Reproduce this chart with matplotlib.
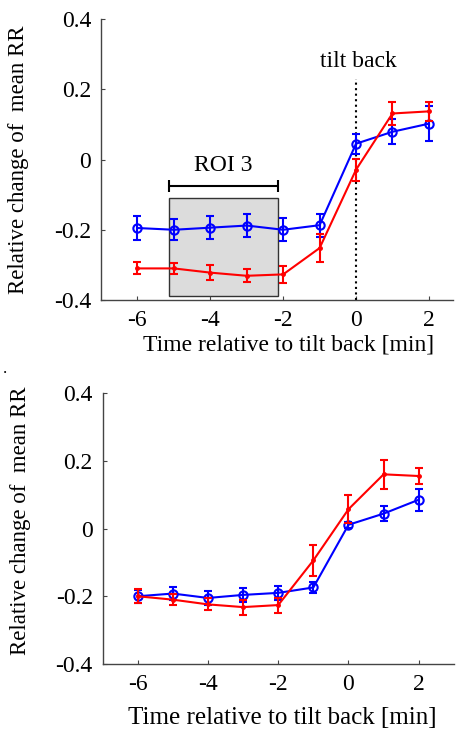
import matplotlib
matplotlib.use("Agg")
import matplotlib.pyplot as plt
from matplotlib.patches import Rectangle

plt.rcParams['font.family'] = ['Liberation Serif', 'DejaVu Serif']

# temps relatif au retour de bascule [min]
t = [-6, -5, -4, -3, -2, -1, 0, 1, 2]

# panneau du haut
haut_bleu = [-0.195, -0.200, -0.194, -0.188, -0.200, -0.187, 0.045, 0.079, 0.102]
haut_bleu_err = [0.035, 0.030, 0.032, 0.034, 0.033, 0.033, 0.029, 0.036, 0.050]
haut_rouge = [-0.310, -0.310, -0.322, -0.331, -0.327, -0.252, -0.029, 0.131, 0.137]
haut_rouge_err = [0.017, 0.015, 0.021, 0.019, 0.024, 0.040, 0.031, 0.034, 0.027]

# panneau du bas
bas_bleu = [-0.200, -0.192, -0.205, -0.196, -0.190, -0.174, 0.011, 0.044, 0.085]
bas_bleu_err = [0.019, 0.020, 0.020, 0.020, 0.020, 0.017, 0.008, 0.023, 0.033]
bas_rouge = [-0.200, -0.210, -0.224, -0.232, -0.226, -0.094, 0.057, 0.160, 0.155]
bas_rouge_err = [0.021, 0.016, 0.018, 0.022, 0.022, 0.046, 0.041, 0.042, 0.024]

roi = [-5.13, -2.15]
yticks = [-0.4, -0.2, 0, 0.2, 0.4]
xticks = [-6, -4, -2, 0, 2]

fig = plt.figure(figsize=(4.58, 7.30), dpi=100)
ax1 = fig.add_axes([0.2205, 0.589, 0.7685, 0.385])
ax2 = fig.add_axes([0.224, 0.0904, 0.767, 0.3712])


def style(ax, xmax, xlab_size, xlab_pad, xlab_x, ylab_y):
    ax.set_xlim(-7, xmax)
    ax.set_ylim(-0.4, 0.4)
    ax.set_xticks(xticks)
    ax.set_yticks(yticks)
    ax.set_yticklabels(["-0.4", "-0.2", "0", "0.2", "0.4"])
    ax.set_xticklabels([str(v) for v in xticks])
    for s in ["top", "right"]:
        ax.spines[s].set_visible(False)
    for s in ["left", "bottom"]:
        ax.spines[s].set_color("#444444")
        ax.spines[s].set_linewidth(1.0)
    ax.tick_params(direction="in", length=3, labelsize=17, color="#444444", pad=7)
    ax.set_xlabel("Time relative to tilt back [min]", fontsize=xlab_size, labelpad=xlab_pad)
    ax.xaxis.label.set_x(xlab_x)
    ax.set_ylabel("Relative change of  mean RR", fontsize=16.5)
    ax.yaxis.set_label_coords(-0.205, ylab_y)


def courbes(ax, bleu, bleu_err, rouge, rouge_err):
    ax.errorbar(t, bleu, yerr=bleu_err, color="blue", marker="o", markersize=6,
                markerfacecolor="none", markeredgewidth=1.5, linewidth=1.5,
                elinewidth=1.5, capsize=3, capthick=1.5, zorder=4)
    ax.errorbar(t, rouge, yerr=rouge_err, color="red", marker=".", markersize=5,
                linewidth=1.5, elinewidth=1.5, capsize=3, capthick=1.5, zorder=5)


# haut
style(ax1, 2.66, 17, 3, 0.533, 0.5)
ax1.add_patch(Rectangle((roi[0], -0.389), roi[1] - roi[0], 0.28,
                        facecolor="#dcdcdc", edgecolor="#333333", linewidth=1.0, zorder=1))
ax1.errorbar([(roi[0] + roi[1]) / 2], [-0.074], xerr=[(roi[1] - roi[0]) / 2],
             color="black", linewidth=1.5, capsize=4, capthick=1.5, fmt="none")
ax1.text((roi[0] + roi[1]) / 2, -0.018, "ROI 3", ha="center", va="center", fontsize=17)
ax1.plot([0, 0], [-0.4, 0.229], color="black", linestyle=":", linewidth=1.5, zorder=2)
ax1.text(0.07, 0.28, "tilt back", ha="center", va="center", fontsize=17)
courbes(ax1, haut_bleu, haut_bleu_err, haut_rouge, haut_rouge_err)

# bas
style(ax2, 3.0, 18, 9, 0.512, 0.53)
courbes(ax2, bas_bleu, bas_bleu_err, bas_rouge, bas_rouge_err)

fig.text(5 / 458, 1 - 369 / 730, ".", fontsize=12, ha="center", va="center")

fig.savefig("out.png", dpi=100)
